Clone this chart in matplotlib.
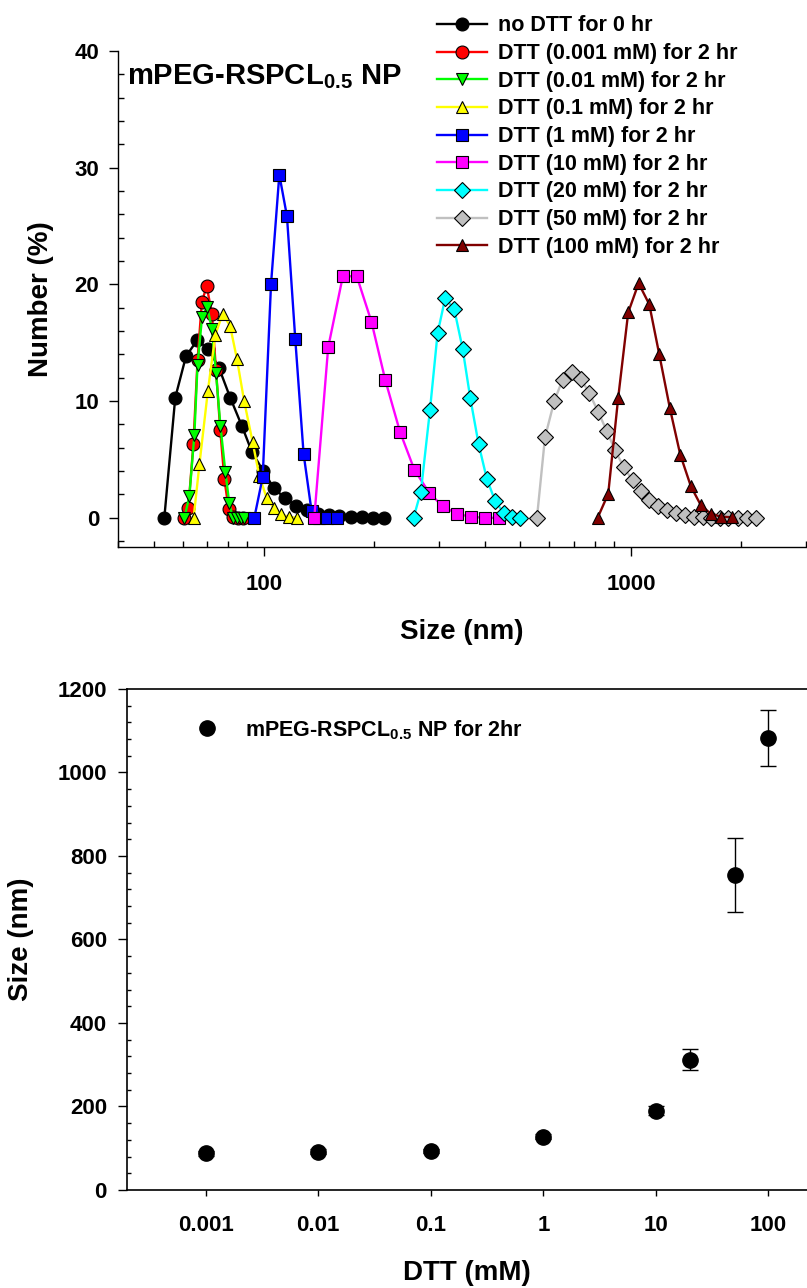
import matplotlib
matplotlib.use("Agg")
import matplotlib.pyplot as plt
from matplotlib.lines import Line2D
from matplotlib.ticker import FixedLocator, NullFormatter, MultipleLocator

plt.rcParams['font.family'] = ['Liberation Sans', 'DejaVu Sans']
plt.rcParams['font.weight'] = 'bold'
plt.rcParams['mathtext.fontset'] = 'custom'
plt.rcParams['mathtext.rm'] = 'Liberation Sans:bold'
plt.rcParams['mathtext.bf'] = 'Liberation Sans:bold'

# ---- top panel: size distributions (Size nm, Number %) ----
black_x = [53.5, 57.3, 61.3, 65.7, 70.5, 75.5, 80.9, 87.1, 92.7, 99.6, 106.3, 113.8,
           122.2, 130.9, 140, 150, 160.6, 172.6, 184.9, 198.6, 212.8]
black_y = [0, 10.3, 13.85, 15.2, 14.5, 12.8, 10.3, 7.85, 5.65, 4.0, 2.57, 1.71,
           1.05, 0.65, 0.37, 0.26, 0.14, 0.09, 0.05, 0, 0]
red_x = [60.4, 62.2, 64.2, 65.9, 67.7, 69.8, 72.1, 74.0, 76.0, 78.0, 80.1, 82.5, 84.7, 87.4]
red_y = [0, 0.86, 6.3, 13.5, 18.5, 19.85, 17.5, 12.7, 7.5, 3.3, 0.77, 0.05, 0, 0]
green_x = [60.7, 62.6, 64.6, 65.9, 67.8, 70.0, 72.1, 74.0, 76.1, 78.5, 80.4, 82.2, 84.3, 86.3, 88.4]
green_y = [0, 1.85, 7.1, 13.1, 17.2, 18.1, 16.2, 12.4, 7.85, 3.9, 1.3, 0, 0, 0, 0]
yellow_x = [64.3, 66.7, 70.3, 73.7, 77.2, 80.9, 84.4, 88.3, 93.1, 97.1, 101.7, 106.3,
            111.2, 116.7, 123]
yellow_y = [0, 4.6, 10.85, 15.7, 17.5, 16.4, 13.6, 10.0, 6.5, 3.6, 1.7, 0.85, 0.3, 0.1, 0]
blue_x = [94.1, 99.2, 104.5, 110.1, 115.5, 121.7, 128.2, 134.8, 141.6, 148.5, 158.3]
blue_y = [0, 3.5, 20.0, 29.4, 25.85, 15.3, 5.5, 0.57, 0, 0, 0]
magenta_x = [137.1, 149.6, 164, 179, 196.3, 214.1, 234.8, 256.8, 282, 306.7, 335.7,
             366.6, 401, 437.7]
magenta_y = [0, 14.6, 20.7, 20.7, 16.8, 11.8, 7.37, 4.14, 2.14, 1.0, 0.34, 0.09, 0, 0]
cyan_x = [255.6, 267.7, 283.3, 297.2, 311.7, 329.9, 347.8, 364.8, 384.6, 405.2, 426.9,
          449.9, 473.9, 499.3]
cyan_y = [0, 2.25, 9.2, 15.8, 18.8, 17.9, 14.5, 10.3, 6.3, 3.3, 1.42, 0.43, 0.09, 0]
gray_x = [554.6, 583.3, 618.2, 651.6, 689.2, 730.9, 769.8, 814.7, 860.4, 906.3, 955.4,
          1011, 1065, 1122, 1187, 1253, 1326, 1403, 1482, 1568, 1652, 1747, 1845,
          1954, 2066, 2191]
gray_y = [0, 6.9, 10.0, 11.85, 12.5, 11.9, 10.7, 9.08, 7.4, 5.77, 4.37, 3.2, 2.28,
          1.57, 1.05, 0.71, 0.43, 0.22, 0.1, 0.03, 0, 0, 0, 0, 0, 0]
brown_x = [811.6, 867.4, 923.5, 983.3, 1049.6, 1122, 1194, 1277, 1363, 1457, 1551,
           1652, 1759, 1884]
brown_y = [0, 2.06, 10.3, 17.6, 20.1, 18.3, 14.05, 9.4, 5.42, 2.7, 1.08, 0.34, 0.1, 0.05]

series_labels = ["no DTT for 0 hr", "DTT (0.001 mM) for 2 hr", "DTT (0.01 mM) for 2 hr",
                 "DTT (0.1 mM) for 2 hr", "DTT (1 mM) for 2 hr", "DTT (10 mM) for 2 hr",
                 "DTT (20 mM) for 2 hr", "DTT (50 mM) for 2 hr", "DTT (100 mM) for 2 hr"]

# ---- bottom panel: mean size vs DTT ----
dtt_mM = [0.001, 0.01, 0.1, 1, 10, 20, 50, 100]
size_nm = [88, 92, 93, 128, 190, 312, 754, 1083]
size_err = [6, 5, 5, 6, 10, 25, 89, 67]
dtt_ticks = [0.001, 0.01, 0.1, 1, 10, 100]
dtt_ticklabels = ['0.001', '0.01', '0.1', '1', '10', '100']

fig = plt.figure(figsize=(8.07, 12.88), dpi=100)

# top
ax1 = fig.add_axes([0.1462, 0.5753, 0.8525, 0.3851])
curves = [
    (black_x, black_y, 'black', 'o'),
    (red_x, red_y, '#ff0000', 'o'),
    (green_x, green_y, '#00ff00', 'v'),
    (yellow_x, yellow_y, '#ffff00', '^'),
    (blue_x, blue_y, '#0000ff', 's'),
    (magenta_x, magenta_y, '#ff00ff', 's'),
    (cyan_x, cyan_y, '#00ffff', 'D'),
    (gray_x, gray_y, '#c0c0c0', 'D'),
    (brown_x, brown_y, '#800000', '^'),
]
handles = []
for (xs, ys, col, mk), lab in zip(curves, series_labels):
    ms = 8 if mk == 'D' else 9.3
    h, = ax1.plot(xs, ys, color=col, lw=1.7, marker=mk, ms=ms, mfc=col,
                  mec='black', mew=0.8, label=lab, clip_on=False)
    handles.append(h)

ax1.set_xscale('log')
ax1.set_xlim(40, 3000)
ax1.set_ylim(-2.5, 40)
ax1.set_xticks([100, 1000])
ax1.set_xticklabels(['100', '1000'])
ax1.xaxis.set_minor_locator(FixedLocator([40, 50, 60, 70, 80, 90, 200, 300, 400, 500,
                                          600, 700, 800, 900, 2000, 3000]))
ax1.xaxis.set_minor_formatter(NullFormatter())
ax1.set_yticks([0, 10, 20, 30, 40])
ax1.yaxis.set_minor_locator(MultipleLocator(2))
ax1.tick_params(which='major', direction='out', length=6.5, width=1, labelsize=16)
ax1.tick_params(axis='y', which='major', pad=7)
ax1.tick_params(axis='x', which='major', pad=13)
ax1.tick_params(which='minor', direction='in', length=4, width=1)
for s in ['top', 'right']:
    ax1.spines[s].set_visible(False)
for s in ['left', 'bottom']:
    ax1.spines[s].set_linewidth(1)
ax1.set_xlabel('Size (nm)', fontsize=20, fontweight='bold', labelpad=17)
ax1.set_ylabel('Number (%)', fontsize=20, fontweight='bold', labelpad=15)
ax1.text(0.013, 0.978, r'mPEG-RSPCL$_{\mathbf{0.5}}$ NP', transform=ax1.transAxes,
         fontsize=21, fontweight='bold', va='top', ha='left')

ax1.legend(handles=handles, loc='upper left', bbox_to_anchor=(0.5415, 0.988),
           bbox_transform=fig.transFigure, frameon=False, fontsize=15.5,
           handlelength=2.3, handletextpad=0.55, labelspacing=0.31,
           borderpad=0, borderaxespad=0, numpoints=1)

# bottom
ax2 = fig.add_axes([0.1574, 0.0761, 0.8426, 0.389])
ax2.errorbar(dtt_mM, size_nm, yerr=size_err, fmt='o', color='black', ms=11,
             ecolor='black', elinewidth=1, capsize=6, capthick=1)
ax2.set_xscale('log')
ax2.set_xlim(2e-4, 220)
ax2.set_ylim(0, 1200)
ax2.set_xticks(dtt_ticks)
ax2.set_xticklabels(dtt_ticklabels)
ax2.xaxis.set_minor_locator(FixedLocator([]))
ax2.set_yticks([0, 200, 400, 600, 800, 1000, 1200])
ax2.yaxis.set_minor_locator(MultipleLocator(40))
ax2.tick_params(which='major', direction='out', length=6.5, width=1, labelsize=16)
ax2.tick_params(axis='y', which='major', pad=8)
ax2.tick_params(axis='x', which='major', length=4, pad=14)
ax2.tick_params(which='minor', direction='in', length=3, width=1)
ax2.spines['right'].set_visible(False)
for s in ['left', 'bottom', 'top']:
    ax2.spines[s].set_linewidth(1.2)
ax2.set_xlabel('DTT (mM)', fontsize=20, fontweight='bold', labelpad=17)
ax2.set_ylabel('Size (nm)', fontsize=20, fontweight='bold', labelpad=17)
proxy = Line2D([], [], ls='none', marker='o', color='black', ms=11)
ax2.legend(handles=[proxy], labels=[r'mPEG-RSPCL$_{\mathbf{0.5}}$ NP for 2hr'],
           loc='upper left', bbox_to_anchor=(191 / 807, 1 - 718 / 1288),
           bbox_transform=fig.transFigure, frameon=False, fontsize=15.5,
           handlelength=1.5, handletextpad=1.0, borderpad=0, borderaxespad=0,
           numpoints=1)

fig.savefig('out.png', dpi=100)
